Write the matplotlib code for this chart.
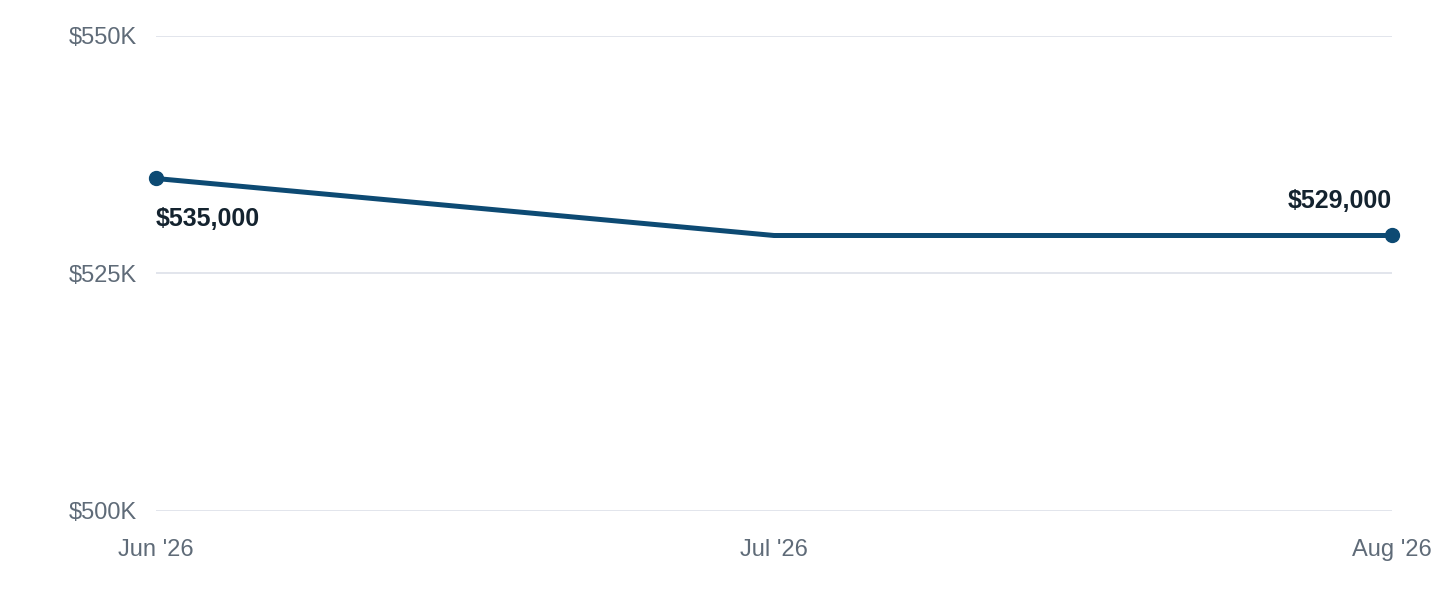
import matplotlib.pyplot as plt
from matplotlib.ticker import FuncFormatter

# Data
months = ["Jun '26", "Jul '26", "Aug '26"]
prices = [535000, 529000, 529000]
y_ticks = [500000, 525000, 550000]

plt.rcParams['font.family'] = ['Liberation Sans', 'DejaVu Sans']

line_color = '#0d4a73'
tick_color = '#5f6b78'
label_color = '#14232f'
grid_color = '#dfe3ea'

fig = plt.figure(figsize=(14.4, 6), dpi=100)
ax = fig.add_axes([156 / 1440, 1 - 511 / 600, (1392 - 156) / 1440, (511 - 36) / 600])

x = list(range(len(months)))
ax.plot(x, prices, color=line_color, linewidth=3.6, solid_capstyle='butt', zorder=3)

# markers only on first and last point
ends = [0, len(x) - 1]
ax.plot([x[i] for i in ends], [prices[i] for i in ends], 'o', color=line_color,
        markersize=10, clip_on=False, zorder=4)

ax.annotate(f'${prices[0]:,}', (x[0], prices[0]), xytext=(0, -29), textcoords='offset points',
            ha='left', va='center', fontsize=18, fontweight='bold', color=label_color)
ax.annotate(f'${prices[-1]:,}', (x[-1], prices[-1]), xytext=(0, 25), textcoords='offset points',
            ha='right', va='center', fontsize=18, fontweight='bold', color=label_color)

ax.set_xlim(0, len(x) - 1)
ax.set_ylim(y_ticks[0], y_ticks[-1])
ax.set_xticks(x)
ax.set_xticklabels(months)
ax.set_yticks(y_ticks)
ax.yaxis.set_major_formatter(FuncFormatter(lambda v, p: f'${v / 1000:.0f}K'))

ax.grid(axis='y', color=grid_color, linewidth=1.3)
ax.set_axisbelow(True)
for s in ax.spines.values():
    s.set_visible(False)
ax.tick_params(axis='both', length=0, labelsize=17, colors=tick_color)
ax.tick_params(axis='y', pad=14)
ax.tick_params(axis='x', pad=20)

fig.savefig('out.png', dpi=100)
